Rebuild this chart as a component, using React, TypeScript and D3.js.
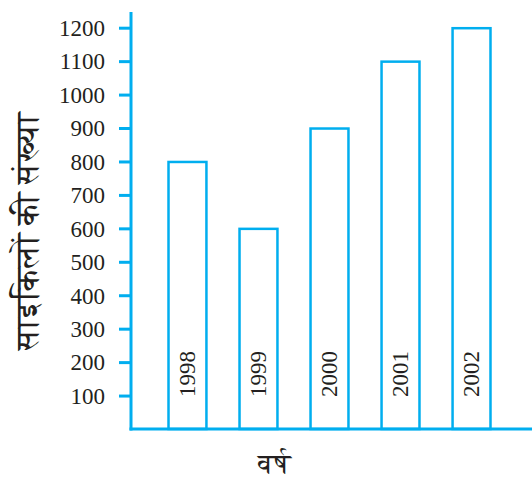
import React from 'react'
import * as d3 from 'd3'

const years = ['1998', '1999', '2000', '2001', '2002']
const cycles = [800, 600, 900, 1100, 1200]
const yTicks = [100, 200, 300, 400, 500, 600, 700, 800, 900, 1000, 1100, 1200]

const yLabel = 'साइकिलों की संख्या'
const xLabel = 'वर्ष'

const width = 532
const height = 477
const blue = '#00aeef'
const ink = '#231f20'
const latin = 'Liberation Serif'
const deva = 'FreeSerif'

const App = () => {
  const x = d3
    .scaleBand()
    .domain(years)
    .range([133, 526])
    .paddingInner(0.466)
    .paddingOuter(0.5)

  const y = d3.scaleLinear().domain([0, 1200]).range([429.5, 28.2])

  const axisX = 131
  const axisY = 429

  return (
    <svg
      width={width}
      height={height}
      style={{ position: 'absolute', left: 0, top: 0, background: '#fff', fontFamily: latin }}
    >
      {/* bars */}
      {years.map((yr, i) => (
        <g key={yr}>
          <rect
            x={x(yr)}
            y={y(cycles[i])}
            width={x.bandwidth()}
            height={axisY - y(cycles[i])}
            fill='none'
            stroke={blue}
            strokeWidth={2.5}
          />
          <text
            transform={`translate(${(x(yr) as number) + x.bandwidth() / 2 + 7.8},397) rotate(-90)`}
            style={{ fontFamily: latin, fontSize: 23 }}
            fill={ink}
          >
            {yr}
          </text>
        </g>
      ))}

      {/* axes */}
      <line x1={axisX} x2={axisX} y1={12} y2={axisY + 1.5} stroke={blue} strokeWidth={3} />
      <line x1={axisX - 1.5} x2={width} y1={axisY} y2={axisY} stroke={blue} strokeWidth={3} />
      {yTicks.map(t => (
        <g key={t}>
          <line x1={119} x2={axisX} y1={y(t)} y2={y(t)} stroke={blue} strokeWidth={3} />
          <text
            x={105}
            y={y(t)}
            dy='0.34em'
            textAnchor='end'
            style={{ fontFamily: latin, fontSize: 23 }}
            fill={ink}
          >
            {t}
          </text>
        </g>
      ))}

      {/* axis titles */}
      <text
        transform='translate(38,350) rotate(-90)'
        textLength={238}
        lengthAdjust='spacingAndGlyphs'
        style={{ fontFamily: deva, fontSize: 32 }}
        fill={ink}
      >
        {yLabel}
      </text>
      <text
        x={258}
        y={473}
        textLength={33}
        lengthAdjust='spacingAndGlyphs'
        style={{ fontFamily: deva, fontSize: 27 }}
        fill={ink}
      >
        {xLabel}
      </text>
    </svg>
  )
}

export default App
